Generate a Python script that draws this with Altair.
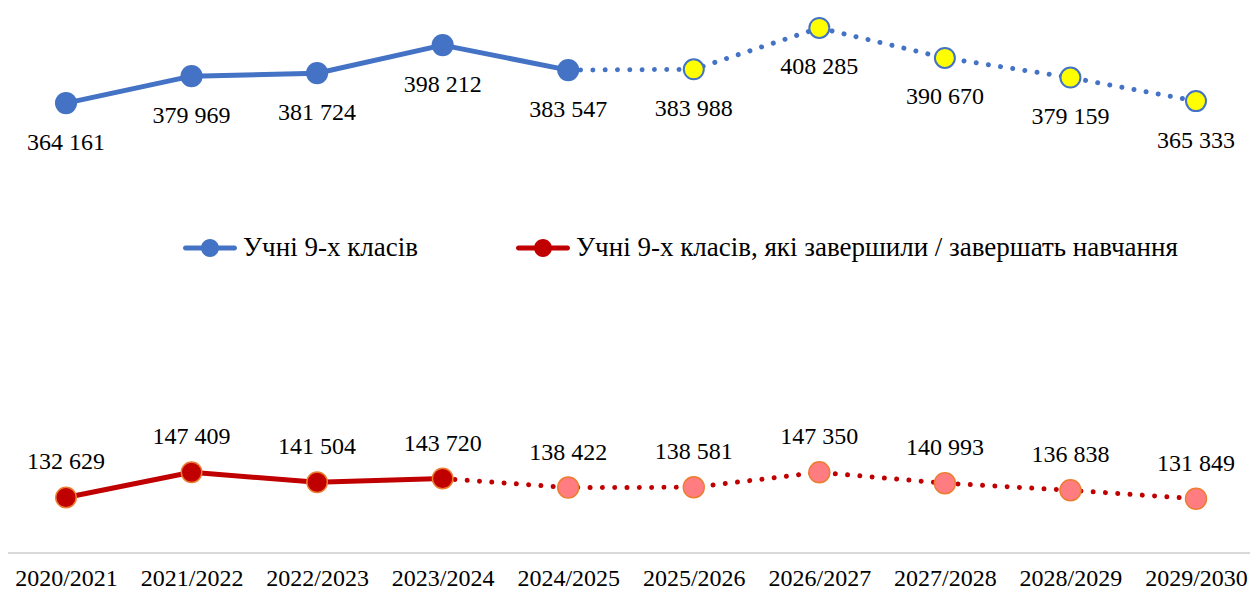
import altair as alt
import pandas as pd

categories = ["2020/2021", "2021/2022", "2022/2023", "2023/2024", "2024/2025",
              "2025/2026", "2026/2027", "2027/2028", "2028/2029", "2029/2030"]
pupils = [364161, 379969, 381724, 398212, 383547, 383988, 408285, 390670, 379159, 365333]
graduates = [132629, 147409, 141504, 143720, 138422, 138581, 147350, 140993, 136838, 131849]
last_actual = [4, 3]  # index of last actual (non-forecast) value per series
series_names = ["Учні 9-х класів", "Учні 9-х класів, які завершили / завершать навчання"]
axis_floor = [100000]

line_colors = ["#4472C4", "#C00000"]
actual_fill = ["#4472C4", "#C00000"]
forecast_fill = ["#FFFF00", "#FF7C80"]
point_stroke = [["#4472C4", "#4472C4"], ["#ED7D31", "#ED7D31"]]
point_size = [[490, 400], [420, 440]]
point_sw = [[0, 2], [1.5, 1.5]]

FONT = "Liberation Serif, Times New Roman, DejaVu Serif, serif"
W, H = 1239, 545

line_rows, pt_rows = [], []
for s, (name, vals) in enumerate(zip(series_names, [pupils, graduates])):
    la = last_actual[s]
    for i, v in enumerate(vals):
        if i <= la:
            line_rows.append(dict(series=name, cat=categories[i], value=v, seg="actual",
                                  grp=f"{s}a", lc=line_colors[s]))
        if i >= la:
            line_rows.append(dict(series=name, cat=categories[i], value=v, seg="forecast",
                                  grp=f"{s}f", lc=line_colors[s]))
        f = 0 if i <= la else 1
        pt_rows.append(dict(series=name, sidx=s, kind=f, cat=categories[i], value=v,
                            fill=actual_fill[s] if f == 0 else forecast_fill[s],
                            stroke=point_stroke[s][f],
                            label=f"{v:,}".replace(",", " ")))

lines_df = pd.DataFrame(line_rows)
pts_df = pd.DataFrame(pt_rows)
floor_df = pd.DataFrame({"value": axis_floor})

x = alt.X("cat:N", sort=categories,
          scale=alt.Scale(range=[55, 1185], padding=0),
          axis=alt.Axis(title=None, domain=False, ticks=False, grid=False,
                        labelFont=FONT, labelFontSize=24, labelColor="#000000",
                        labelPadding=13, labelAngle=0))
y = alt.Y("value:Q", scale=alt.Scale(domain=[100000, 420000], nice=False, zero=False), axis=None)

base_line = alt.Chart(lines_df)
solid = base_line.transform_filter(alt.datum.seg == "actual").mark_line(
    strokeWidth=5, strokeCap="round", strokeJoin="round").encode(
    x=x, y=y, detail="grp:N", stroke=alt.Stroke("lc:N", scale=None))
dotted = base_line.transform_filter(alt.datum.seg == "forecast").mark_line(
    strokeWidth=5, strokeCap="round", strokeDash=[0.01, 12.3]).encode(
    x=x, y=y, detail="grp:N", stroke=alt.Stroke("lc:N", scale=None))

legend_path = ("M-0.907,-0.0926 L0.907,-0.0926 A0.0926,0.0926 0 0,1 0.907,0.0926 "
               "L-0.907,0.0926 A0.0926,0.0926 0 0,1 -0.907,-0.0926 Z "
               "M0.333,0 A0.333,0.333 0 1,1 -0.333,0 A0.333,0.333 0 1,1 0.333,0 Z")

legend_layer = alt.Chart(pts_df).mark_point(filled=True, opacity=0).encode(
    x=x, y=y,
    color=alt.Color("series:N", scale=alt.Scale(domain=series_names, range=line_colors),
                    legend=alt.Legend(orient="none", legendX=172, legendY=213,
                                      direction="horizontal", title=None,
                                      symbolType=legend_path, symbolSize=2916,
                                      symbolOpacity=1, symbolStrokeWidth=0,
                                      labelFont=FONT, labelFontSize=27, labelColor="#000000",
                                      labelLimit=900, labelOffset=6, columnPadding=98,
                                      padding=0)))

point_layers = []
for s in range(2):
    for f in range(2):
        point_layers.append(
            alt.Chart(pts_df)
            .transform_filter((alt.datum.sidx == s) & (alt.datum.kind == f))
            .mark_point(filled=True, opacity=1, size=point_size[s][f], strokeWidth=point_sw[s][f])
            .encode(x=x, y=y,
                    fill=alt.Fill("fill:N", scale=None),
                    stroke=alt.Stroke("stroke:N", scale=None)))

labels_top = alt.Chart(pts_df).transform_filter(alt.datum.sidx == 0).mark_text(
    font=FONT, fontSize=24, color="#000000", baseline="alphabetic", dy=46.5).encode(
    x=x, y=y, text="label:N")
labels_bottom = alt.Chart(pts_df).transform_filter(alt.datum.sidx == 1).mark_text(
    font=FONT, fontSize=24, color="#000000", baseline="alphabetic", dy=-28).encode(
    x=x, y=y, text="label:N")

baseline = alt.Chart(floor_df).mark_rule(color="#D9D9D9", strokeWidth=2).encode(
    y=y, x=alt.value(-3), x2=alt.value(1239))

chart = alt.layer(baseline, solid, dotted, legend_layer, *point_layers, labels_top, labels_bottom).properties(
    width=W, height=H,
    autosize=alt.AutoSizeParams(type="none"),
    padding={"left": 3, "top": 0, "right": 0, "bottom": 45},
).configure(font=FONT, view=alt.ViewConfig(stroke=None))

chart.save("out.html", embed_options={"renderer": "svg", "actions": False})
